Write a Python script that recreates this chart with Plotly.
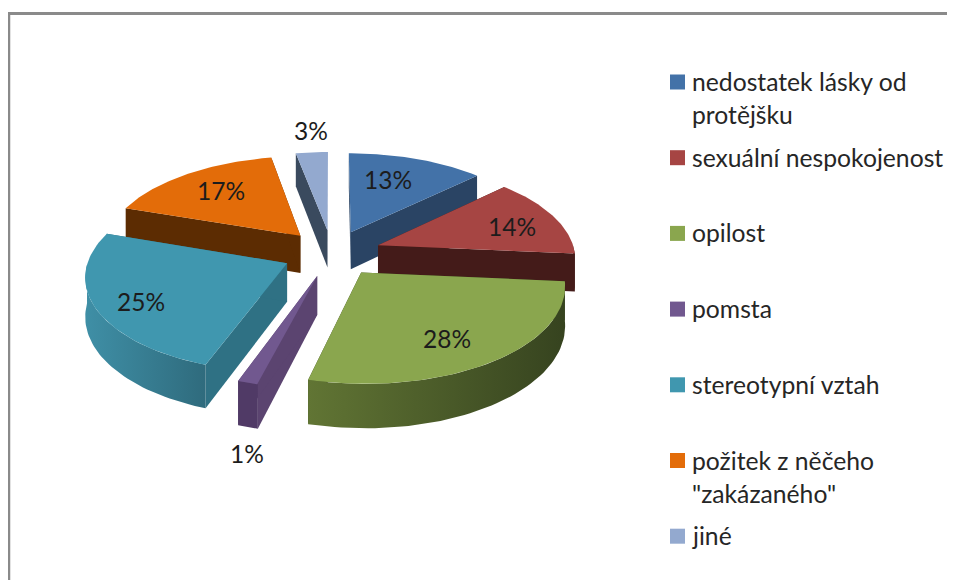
import numpy as np
import plotly.graph_objects as go

categories = [
    "nedostatek lásky od<br>protějšku",
    "sexuální nespokojenost",
    "opilost",
    "pomsta",
    "stereotypní vztah",
    'požitek z něčeho<br>"zakázaného"',
    "jiné",
]
shares = [12.8, 13.6, 27.6, 1.45, 24.75, 16.8, 3.0]

top_colors = ["#4372A8", "#A64543", "#8AA64E", "#71588F", "#4097AF", "#E36C09", "#93A9CF"]
cut_colors = ["#2A4464", "#441B19", "#36431F", "#5B4470", "#2F7184", "#5C2C02", "#3A4A5E"]
wall_left = ["#3A608C", "#441B19", "#617534", "#503A66", "#3F8FA6", "#8A4406", "#54657F"]
wall_right = ["#2A4464", "#441B19", "#36431F", "#503A66", "#2F6B7D", "#5C2C02", "#3A4A5E"]

# where the percent labels sit, same order as shares
label_x = [388, 512, 447, 247, 141, 221, 311]
label_y = [179, 226, 338, 453, 301, 190, 130]

legend_first_row = 81.5
legend_step = 75.7
line_step = 33

CX, CY = 332, 253
RX, RY = 197, 93
EXPLODE = 0.25
DEPTH = 38
PERSPECTIVE = 0.12

# the page keeps an 8px body margin, so axes run in page pixels from there
PAGE_OFFSET = 8


def project(px, py, drop=0.0):
    scale = 1 / (1 + PERSPECTIVE * py)
    return CX + RX * px * scale, CY - RY * py * scale + DEPTH * drop * scale


def slice_paths(start, end):
    mid = (start + end) / 2
    ox, oy = EXPLODE * np.sin(mid), EXPLODE * np.cos(mid)
    angles = np.linspace(start, end, 60)
    arc_x, arc_y = ox + np.sin(angles), oy + np.cos(angles)

    top = project(np.r_[ox, arc_x, ox], np.r_[oy, arc_y, oy])

    # only the part of the rim that faces the viewer gets a wall
    wall = None
    facing = np.cos(angles) < 0
    if facing.any():
        up = project(arc_x[facing], arc_y[facing])
        low = project(arc_x[facing], arc_y[facing], 1)
        wall = (np.r_[up[0], low[0][::-1], up[0][0]], np.r_[up[1], low[1][::-1], up[1][0]])

    def cut(ex, ey):
        a = project(np.array([ox, ex]), np.array([oy, ey]))
        b = project(np.array([ex, ox]), np.array([ey, oy]), 1)
        return np.r_[a[0], b[0], a[0][0]], np.r_[a[1], b[1], a[1][0]]

    return top, wall, cut(arc_x[0], arc_y[0]), cut(arc_x[-1], arc_y[-1])


def polygon(path, color=None, gradient=None):
    trace = dict(x=path[0], y=path[1], mode="lines", fill="toself", line=dict(width=0), hoverinfo="skip")
    if gradient:
        trace["fillgradient"] = dict(type="horizontal", colorscale=[[0, gradient[0]], [1, gradient[1]]])
    else:
        trace["fillcolor"] = color
    return go.Scatter(**trace)


edges = np.r_[0, np.cumsum(shares)] / sum(shares) * 2 * np.pi
mids = (edges[:-1] + edges[1:]) / 2

fig = go.Figure()

# back slices first so the front ones cover them
for i in np.argsort(-np.cos(mids)):
    top, wall, cut_a, cut_b = slice_paths(edges[i], edges[i + 1])
    fig.add_trace(polygon(cut_a, cut_colors[i]))
    fig.add_trace(polygon(cut_b, cut_colors[i]))
    if wall is not None:
        fig.add_trace(polygon(wall, gradient=(wall_left[i], wall_right[i])))
    fig.add_trace(polygon(top, top_colors[i]))

annotations = []
for value, x, y in zip(shares, label_x, label_y):
    annotations.append(dict(x=x, y=y, text=f"{value:.0f}%", showarrow=False, font=dict(size=24.5, color="#1c1c1c")))

shapes = [
    dict(type="line", x0=9, x1=9, y0=13, y1=580, line=dict(color="#8a8a8a", width=2.5)),
    dict(type="line", x0=8, x1=963, y0=13.5, y1=13.5, line=dict(color="#8a8a8a", width=3)),
]
for i, (name, color) in enumerate(zip(categories, top_colors)):
    row = legend_first_row + i * legend_step
    shapes.append(dict(type="rect", x0=670, x1=685, y0=row - 7, y1=row + 8, fillcolor=color, line=dict(width=0)))
    for j, line in enumerate(name.split("<br>")):
        annotations.append(dict(
            x=690, y=row + j * line_step, text=line, showarrow=False, xanchor="left",
            font=dict(size=24.7, color="#262626"),
        ))

fig.update_xaxes(range=[PAGE_OFFSET, 963], visible=False, fixedrange=True)
fig.update_yaxes(range=[580, PAGE_OFFSET], visible=False, fixedrange=True)
fig.update_layout(
    width=955,
    height=580 - PAGE_OFFSET,
    margin=dict(l=0, r=0, t=0, b=0),
    showlegend=False,
    paper_bgcolor="white",
    plot_bgcolor="white",
    font=dict(family="Lato"),
    annotations=annotations,
    shapes=shapes,
)

fig.write_html("out.html", default_width="955px", default_height="572px")
